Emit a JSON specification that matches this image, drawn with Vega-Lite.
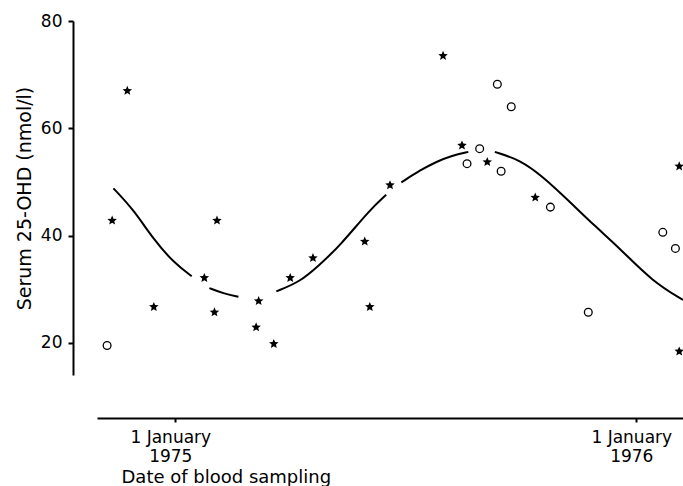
{
  "$schema": "https://vega.github.io/schema/vega-lite/v6.json",
  "autosize": "none",
  "padding": {"left": 97, "top": 21, "right": 0, "bottom": 111},
  "width": 586,
  "height": 354,
  "background": "white",
  "config": {
    "view": {"stroke": null},
    "font": "DejaVu Sans",
    "axis": {"labelFont": "DejaVu Sans", "titleFont": "DejaVu Sans", "labelColor": "black", "titleColor": "black", "domainColor": "black", "tickColor": "black", "grid": false}
  },
  "datasets": {
    "curve": [
      {"date": "1974-11-13", "value": 48.8, "segment": 1},
      {"date": "1974-11-29", "value": 44.8, "segment": 1},
      {"date": "1974-12-15", "value": 39.2, "segment": 1},
      {"date": "1974-12-31", "value": 34.9, "segment": 1},
      {"date": "1975-01-14", "value": 32.4, "segment": 1},
      {"date": "1975-01-28", "value": 30.2, "segment": 2},
      {"date": "1975-02-08", "value": 29.2, "segment": 2},
      {"date": "1975-02-20", "value": 28.6, "segment": 2},
      {"date": "1975-03-22", "value": 29.6, "segment": 3},
      {"date": "1975-04-10", "value": 31.4, "segment": 3},
      {"date": "1975-04-25", "value": 34.5, "segment": 3},
      {"date": "1975-05-11", "value": 38.0, "segment": 3},
      {"date": "1975-06-04", "value": 44.8, "segment": 3},
      {"date": "1975-06-17", "value": 47.6, "segment": 3},
      {"date": "1975-06-29", "value": 49.9, "segment": 4},
      {"date": "1975-07-14", "value": 52.2, "segment": 4},
      {"date": "1975-07-27", "value": 53.8, "segment": 4},
      {"date": "1975-08-08", "value": 54.9, "segment": 4},
      {"date": "1975-08-21", "value": 55.6, "segment": 4},
      {"date": "1975-09-11", "value": 55.6, "segment": 5},
      {"date": "1975-10-01", "value": 54.1, "segment": 5},
      {"date": "1975-10-19", "value": 51.0, "segment": 5},
      {"date": "1975-11-08", "value": 46.6, "segment": 5},
      {"date": "1975-11-29", "value": 41.8, "segment": 5},
      {"date": "1975-12-19", "value": 37.6, "segment": 5},
      {"date": "1976-01-14", "value": 31.4, "segment": 5},
      {"date": "1976-02-07", "value": 28.0, "segment": 5}
    ],
    "points": [
      {"date": "1974-11-12", "value": 42.8, "group": "star"},
      {"date": "1974-11-24", "value": 67.0, "group": "star"},
      {"date": "1974-12-15", "value": 26.7, "group": "star"},
      {"date": "1975-01-24", "value": 32.1, "group": "star"},
      {"date": "1975-02-01", "value": 25.7, "group": "star"},
      {"date": "1975-02-03", "value": 42.8, "group": "star"},
      {"date": "1975-03-08", "value": 27.8, "group": "star"},
      {"date": "1975-03-06", "value": 22.9, "group": "star"},
      {"date": "1975-03-20", "value": 19.8, "group": "star"},
      {"date": "1975-04-02", "value": 32.1, "group": "star"},
      {"date": "1975-04-20", "value": 35.8, "group": "star"},
      {"date": "1975-05-31", "value": 38.9, "group": "star"},
      {"date": "1975-06-04", "value": 26.7, "group": "star"},
      {"date": "1975-06-20", "value": 49.4, "group": "star"},
      {"date": "1975-08-01", "value": 73.5, "group": "star"},
      {"date": "1975-08-16", "value": 56.8, "group": "star"},
      {"date": "1975-09-05", "value": 53.7, "group": "star"},
      {"date": "1975-10-13", "value": 47.1, "group": "star"},
      {"date": "1976-02-04", "value": 52.9, "group": "star"},
      {"date": "1976-02-04", "value": 18.4, "group": "star"},
      {"date": "1974-11-08", "value": 19.5, "group": "circle"},
      {"date": "1975-08-20", "value": 53.4, "group": "circle"},
      {"date": "1975-08-30", "value": 56.2, "group": "circle"},
      {"date": "1975-09-13", "value": 68.2, "group": "circle"},
      {"date": "1975-09-16", "value": 52.0, "group": "circle"},
      {"date": "1975-09-24", "value": 64.0, "group": "circle"},
      {"date": "1975-10-25", "value": 45.3, "group": "circle"},
      {"date": "1975-11-24", "value": 25.7, "group": "circle"},
      {"date": "1976-01-22", "value": 40.6, "group": "circle"},
      {"date": "1976-02-01", "value": 37.6, "group": "circle"}
    ]
  },
  "encoding": {
    "x": {
      "field": "date",
      "type": "temporal",
      "scale": {
        "type": "utc",
        "domain": [
          {"year": 1974, "month": 10, "date": 31, "utc": true},
          {"year": 1976, "month": 2, "date": 7, "utc": true}
        ]
      },
      "axis": {
        "title": "Date of blood sampling",
        "values": [
          {"year": 1975, "month": 1, "date": 1, "utc": true},
          {"year": 1976, "month": 1, "date": 1, "utc": true}
        ],
        "labelExpr": "['1 January', utcFormat(datum.value, '%Y')]",
        "labelFontSize": 17,
        "labelLineHeight": 19,
        "labelOffset": -5,
        "labelPadding": 7,
        "labelFlush": false,
        "labelOverlap": false,
        "offset": 43,
        "domainWidth": 2,
        "tickWidth": 2,
        "tickSize": 4,
        "titleFontSize": 18,
        "titleFontWeight": "normal",
        "titleAnchor": "start",
        "titleAlign": "left",
        "titleBaseline": "alphabetic",
        "titleX": 24,
        "titleY": 64
      }
    },
    "y": {
      "field": "value",
      "type": "quantitative",
      "scale": {"domain": [14, 80], "nice": false, "zero": false},
      "axis": {
        "title": "Serum 25-OHD (nmol/l)",
        "values": [20, 40, 60, 80],
        "labelFontSize": 17,
        "labelPadding": 6,
        "offset": 24,
        "domainWidth": 2,
        "tickWidth": 2,
        "tickSize": 5,
        "titleFontSize": 19,
        "titleFontWeight": "normal",
        "titlePadding": 6
      }
    }
  },
  "layer": [
    {
      "data": {"name": "curve"},
      "mark": {"type": "line", "color": "black", "strokeWidth": 2, "interpolate": "basis"},
      "encoding": {"detail": {"field": "segment", "type": "nominal"}}
    },
    {
      "data": {"name": "points"},
      "transform": [{"filter": "datum.group === 'star'"}],
      "mark": {
        "type": "point",
        "shape": "M0,-1L0.265,-0.364L0.951,-0.309L0.428,0.139L0.588,0.809L0,0.45L-0.588,0.809L-0.428,0.139L-0.951,-0.309L-0.265,-0.364Z",
        "filled": true,
        "color": "black",
        "opacity": 1,
        "size": 100
      }
    },
    {
      "data": {"name": "points"},
      "transform": [{"filter": "datum.group === 'circle'"}],
      "mark": {
        "type": "point",
        "shape": "circle",
        "filled": false,
        "color": "black",
        "opacity": 1,
        "strokeWidth": 1.3,
        "size": 60
      }
    }
  ]
}
